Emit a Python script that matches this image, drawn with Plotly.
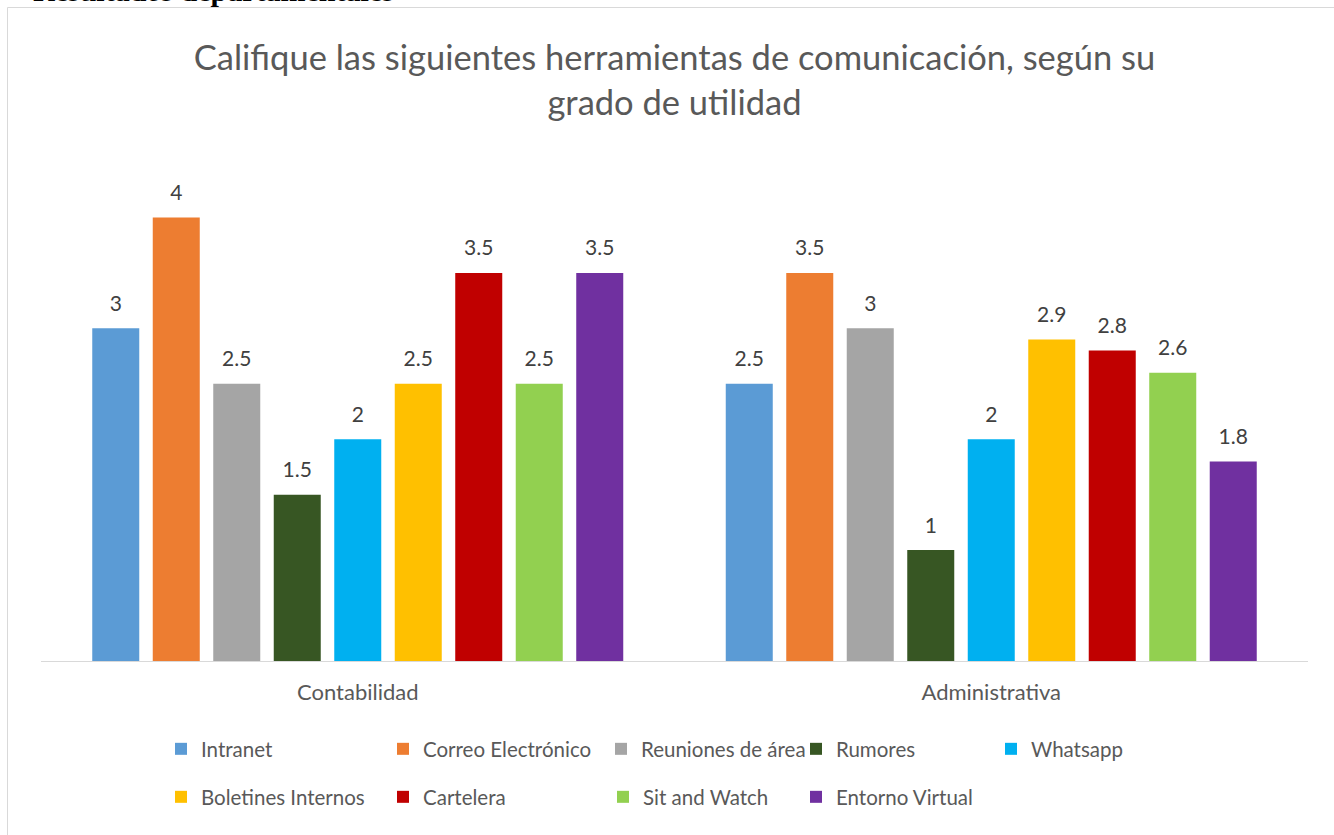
import plotly.graph_objects as go

categories = ["Contabilidad", "Administrativa"]
series_names = ["Intranet", "Correo Electrónico", "Reuniones de área", "Rumores", "Whatsapp",
                "Boletines Internos", "Cartelera", "Sit and Watch", "Entorno Virtual"]
contabilidad = [3, 4, 2.5, 1.5, 2, 2.5, 3.5, 2.5, 3.5]
administrativa = [2.5, 3.5, 3, 1, 2, 2.9, 2.8, 2.6, 1.8]
colors = ["#5B9BD5", "#ED7D31", "#A5A5A5", "#375623", "#00B0F0",
          "#FFC000", "#C00000", "#92D050", "#7030A0"]

# legend item positions (pixels): marker centre x, row centre y
legend_px = [(180, 749), (402, 749), (620, 749), (815, 749), (1010, 749),
             (180, 797), (402, 797), (622, 797), (815, 797)]

W, H = 1334, 835
ml, mr, mt, mb = 41, 26, 162, 174
pw, ph = W - ml - mr, H - mt - mb

def px_x(x):
    return (x - ml) / pw

def px_y(y):
    return (H - mb - y) / ph

FONT = "Lato"
fig = go.Figure()
for i, name in enumerate(series_names):
    vals = [contabilidad[i], administrativa[i]]
    lg = "legend" if i == 0 else f"legend{i+1}"
    fig.add_trace(go.Bar(
        x=categories, y=vals, name=name, marker_color=colors[i],
        marker_line_width=0, legend=lg, hoverinfo="name+y",
    ))
for i, name in enumerate(series_names):
    vals = [contabilidad[i], administrativa[i]]
    fig.add_trace(go.Scatter(
        x=categories, y=vals, mode="markers+text", text=[str(v) for v in vals],
        textposition="top center", marker=dict(size=18, color="rgba(0,0,0,0)"),
        textfont=dict(family=FONT, size=21, color="#404040"),
        showlegend=False, hoverinfo="skip", cliponaxis=False,
    ))

layout_legends = {}
for i, (mx, my) in enumerate(legend_px):
    key = "legend" if i == 0 else f"legend{i+1}"
    layout_legends[key] = dict(
        x=px_x(mx - 19), y=px_y(my), xanchor="left", yanchor="middle",
        orientation="h", bgcolor="rgba(0,0,0,0)", borderwidth=0,
        font=dict(family=FONT, size=20.5, color="#595959"), itemwidth=30,
        tracegroupgap=0,
    )

fig.update_layout(
    width=W, height=H,
    margin=dict(l=ml, r=mr, t=mt, b=mb, autoexpand=False),
    paper_bgcolor="white", plot_bgcolor="white",
    barmode="group", bargap=0.1405, bargroupgap=0.223,
    scattermode="group", scattergap=0.1405,
    title=dict(
        text="Califique las siguientes herramientas de comunicación, según su<br>grado de utilidad",
        x=0.5, xref="paper", xanchor="center", y=1 - 70 / H, yref="container", yanchor="top",
        font=dict(family=FONT, size=34.5, color="#595959"),
    ),
    xaxis=dict(showline=True, linecolor="#D9D9D9", linewidth=1, ticks="",
               tickfont=dict(family=FONT, size=22, color="#595959"),
               ticklabelstandoff=12, showgrid=False, zeroline=False),
    yaxis=dict(visible=False, range=[0, 4.5], showgrid=False, zeroline=False),
    showlegend=True,
    **layout_legends,
)

# outer chart frame
fig.add_shape(type="rect", xref="paper", yref="paper",
              x0=px_x(7.5), x1=px_x(1345), y0=px_y(845), y1=px_y(7.5),
              line=dict(color="#D9D9D9", width=1), fillcolor="rgba(0,0,0,0)", layer="below")

# clipped heading of the page above the chart
fig.add_annotation(text="<b>Resultados departamentales</b>", xref="paper", yref="paper",
                   x=px_x(31), y=px_y(9), xanchor="left", yanchor="bottom", showarrow=False,
                   font=dict(family="Liberation Serif", size=30, color="black"))

fig.write_html("out.html", config={"displayModeBar": False},
               post_script="document.body.style.margin='0';")
